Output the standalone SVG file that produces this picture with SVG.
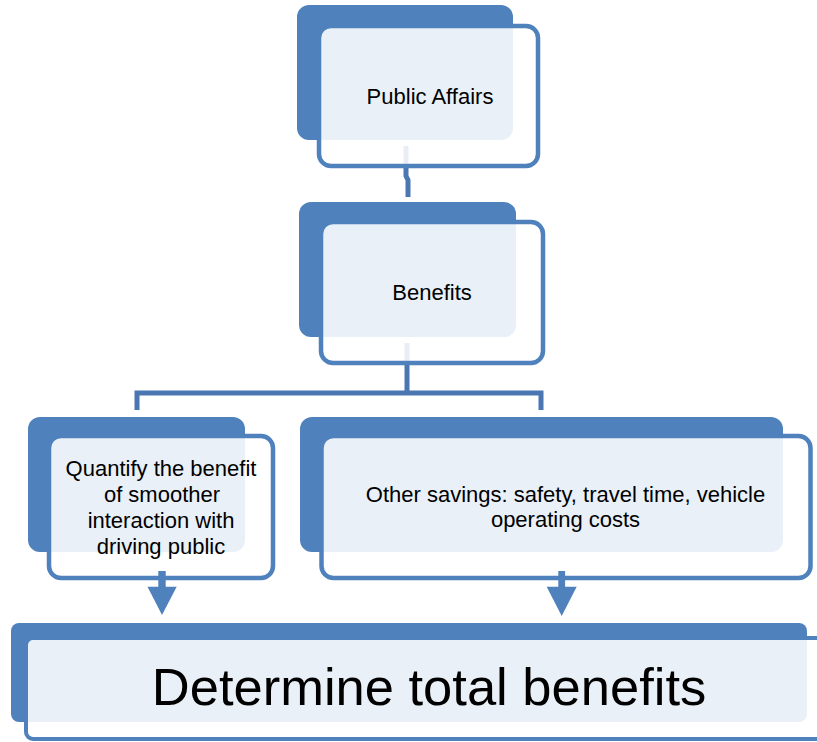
<svg xmlns="http://www.w3.org/2000/svg" width="817" height="742" viewBox="0 0 817 742">
<style>
.back{fill:#4F81BD;}
.front{fill:#FFFFFF;fill-opacity:0.88;stroke:#4F81BD;stroke-width:4.5;}
.conn{fill:none;stroke:#4A77B1;stroke-width:5;stroke-linejoin:miter;}
.arrow{fill:#4F81BD;}
text{font-family:"Liberation Sans",Arial,sans-serif;fill:#000000;text-anchor:middle;}
.t{font-size:22px;}
.big{font-size:52.5px;}
</style>
<rect width="817" height="742" fill="#FFFFFF"/>
<g id="connectors">
<path class="conn" d="M406,146 V176 L408,180 V197"/>
<path class="conn" d="M407,343 V393"/>
<path class="conn" d="M137,410 V393 H541 V410"/>
</g>
<g id="node-public-affairs">
<rect class="back" x="297" y="5" width="216" height="135" rx="12"/>
<rect class="front" x="319" y="26" width="219" height="140" rx="12"/>
<text class="t" x="430" y="104">Public Affairs</text>
</g>
<g id="node-benefits">
<rect class="back" x="299" y="202" width="217" height="135" rx="12"/>
<rect class="front" x="321" y="222" width="222" height="141" rx="12"/>
<text class="t" x="432" y="300">Benefits</text>
</g>
<g id="node-quantify">
<rect class="back" x="28" y="417" width="217" height="135" rx="12"/>
<rect class="front" x="49" y="436" width="224" height="142" rx="12"/>
<text class="t" x="161" y="476">Quantify the benefit</text>
<text class="t" x="162" y="502">of smoother</text>
<text class="t" x="161" y="528">interaction with</text>
<text class="t" x="161" y="554">driving public</text>
</g>
<g id="node-other-savings">
<rect class="back" x="300" y="417" width="483" height="135" rx="12"/>
<rect class="front" x="321.5" y="436" width="489" height="142" rx="12"/>
<text class="t" x="565.5" y="502">Other savings: safety, travel time, vehicle</text>
<text class="t" x="565.5" y="527">operating costs</text>
</g>
<g id="node-total">
<rect class="back" x="11" y="623" width="796" height="99" rx="8"/>
<rect class="front" x="26" y="638" width="800" height="101" rx="7" style="stroke-width:4"/>
<text class="big" x="429" y="705">Determine total benefits</text>
</g>
<g id="arrows">
<rect class="arrow" x="158.3" y="571" width="7.4" height="17"/>
<polygon class="arrow" points="147.5,586.7 176.7,586.7 162,615"/>
<rect class="arrow" x="558.3" y="571" width="6.8" height="17"/>
<polygon class="arrow" points="546.7,586.7 576.7,586.7 561.7,616"/>
</g>
</svg>
